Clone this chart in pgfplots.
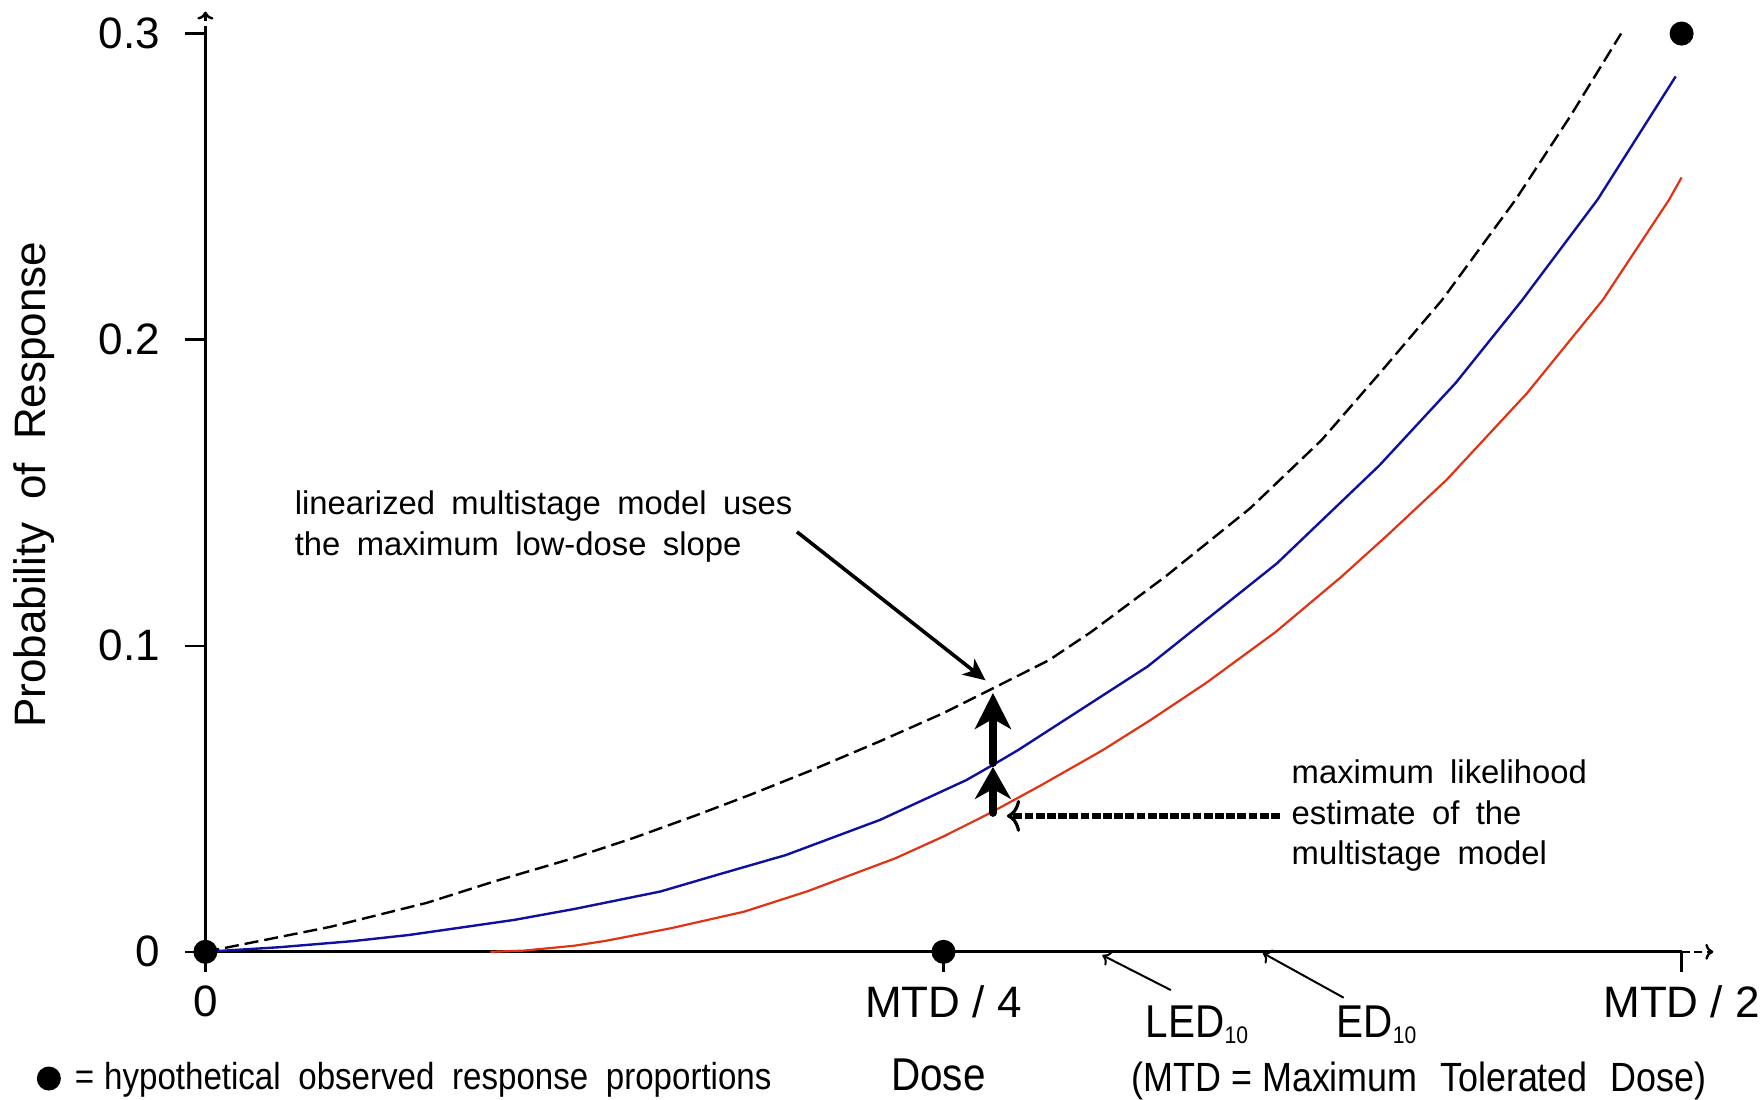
\documentclass[border=0pt]{standalone}
\usepackage{fontspec}
\setmainfont{Liberation Sans}
\newfontfamily\narrowfont{Liberation Sans}[FakeStretch=0.88]
\usepackage{pgfplots}
\pgfplotsset{compat=1.18}
\usetikzlibrary{arrows.meta}
\definecolor{curveblue}{RGB}{15,15,160}
\definecolor{curvered}{RGB}{225,50,20}
\newcommand{\ws}{\hspace{0.5em}}
\newcommand{\wl}{\hspace{0.47em}}
\pgfplotsset{dotlegend/.style={legend image code/.code={\draw[##1] plot coordinates {(0pt,0pt)};}}}

\pgfplotstableread{
x y
0 0
0.17 0.0082
0.3 0.0160
0.39 0.0229
0.49 0.0300
0.58 0.0372
0.666 0.0447
0.737 0.0512
0.82 0.0592
0.914 0.0688
1.0 0.0780
1.063 0.0856
1.143 0.0953
1.2 0.1045
1.3006 0.1226
1.4154 0.1449
1.5123 0.1672
1.5909 0.1890
1.6756 0.2130
1.775 0.2457
1.85 0.2733
1.918 0.3000
}\linearized

\pgfplotstableread{
x y
0 0
0.1 0.0015
0.2 0.0035
0.2758 0.0055
0.4178 0.0104
0.5 0.0140
0.6164 0.0197
0.7013 0.0257
0.7863 0.0316
0.914 0.0431
1.0309 0.0561
1.0665 0.0610
1.101 0.0659
1.2764 0.0932
1.4517 0.1269
1.5909 0.1590
1.6937 0.1858
1.7843 0.2130
1.886 0.2457
1.992 0.2860
}\upperbound

\pgfplotstableread{
x y
0.386 0
0.432 0.0004
0.5 0.0020
0.5426 0.0036
0.6306 0.0077
0.7296 0.0131
0.8147 0.0197
0.9352 0.0306
0.9991 0.0376
1.0628 0.0453
1.135 0.0548
1.2158 0.0659
1.279 0.0755
1.355 0.0877
1.45 0.1045
1.5394 0.1226
1.6 0.1358
1.6816 0.1542
1.7905 0.1825
1.8933 0.2130
1.983 0.2457
2.0 0.2530
}\mle

\pgfplotstableread{
x y
0 0
1 0
2 0.3
}\observed

\begin{document}
\begin{tikzpicture}
\useasboundingbox (0,0) rectangle (440pt,275pt);
\begin{axis}[
  at={(51.35pt,37.04pt)}, anchor=south west,
  scale only axis, width=369.05pt, height=229.56pt,
  xmin=0, xmax=2, ymin=0, ymax=0.3,
  clip=false,
  axis x line=bottom, axis y line=left,
  axis line style={-, line width=0.7pt},
  xtick={0,1,2}, xticklabels={0,MTD / 4,MTD / 2},
  ytick={0,0.1,0.2,0.3}, yticklabels={0,0.1,0.2,0.3},
  tick align=outside, major tick length=5pt,
  tick style={black, line width=0.6pt},
  ticklabel style={font=\fontsize{11}{13}\selectfont},
  yticklabel style={xshift=-2.8pt},
  legend style={at={(-0.1223,-0.1380)}, anchor=west, draw=none, fill=none,
    font=\narrowfont\fontsize{9.4}{11}\selectfont},
  legend cell align=left,
]
\addplot[black, line width=0.6pt, dash pattern=on 3.5pt off 1.5pt, forget plot] table {\linearized};
\addplot[curveblue, line width=0.6pt, forget plot] table {\upperbound};
\addplot[curvered, line width=0.55pt, forget plot] table {\mle};
\addplot[only marks, mark=*, mark size=2.8pt, black, dotlegend] table {\observed};
\addlegendentry{\hspace{1.7pt}=\hspace{2.5pt}hypothetical\wl observed\wl response\wl proportions}

% axis extensions
\draw[line width=0.6pt, dash pattern=on 2pt off 1.2pt, -{To[length=2pt,width=4pt]}] (axis cs:2,0) -- (axis cs:2.043,0);
\draw[line width=0.6pt, dash pattern=on 2pt off 1.2pt, -{To[length=2pt,width=4pt]}] (axis cs:0,0.3) -- (axis cs:0,0.3072);

% arrows
\draw[line width=2pt, line cap=round, -{Stealth[length=8pt,width=9pt,inset=2.5pt]}] (axis cs:1.067,0.0454) -- (axis cs:1.067,0.0604);
\draw[line width=2pt, line cap=round, -{Stealth[length=9pt,width=9pt,inset=2.5pt]}] (axis cs:1.067,0.0617) -- (axis cs:1.067,0.0846);
\draw[line width=1.3pt, dash pattern=on 2.2pt off 0.6pt, -{To[length=3.3pt,width=8pt,line width=0.8pt]}] (axis cs:1.4555,0.0444) -- (axis cs:1.0859,0.0444);
\draw[line width=0.9pt, -{Stealth[length=5.5pt,width=5pt,inset=1.5pt]}] (axis cs:0.8015,0.1372) -- (axis cs:1.057,0.0887);
\draw[line width=0.5pt, -{To[length=2pt,width=4pt]}] (axis cs:1.308,-0.0125) -- (axis cs:1.2152,-0.0011);
\draw[line width=0.5pt, -{To[length=2pt,width=4pt]}] (axis cs:1.5422,-0.015) -- (axis cs:1.4327,-0.0004);

% annotations
\node[anchor=west, align=left, inner sep=0pt, font=\fontsize{8.2}{10.1}\selectfont]
  at (axis cs:0.12,0.1390) {linearized\ws multistage\ws model\ws uses\\the\ws maximum\ws low-dose\ws slope};
\node[anchor=west, align=left, inner sep=0pt, font=\fontsize{8.2}{10.1}\selectfont]
  at (axis cs:1.4707,0.0444) {maximum\ws likelihood\\estimate\ws of\ws the\\multistage\ws model};
\node[rotate=90, font=\fontsize{11}{13}\selectfont]
  at (axis cs:-0.2327,0.1526) {Probability\hspace{0.52em}of\hspace{0.52em}Response};
\node[font=\narrowfont\fontsize{11.5}{13}\selectfont] at (axis cs:0.9932,-0.0403) {Dose};
\node[font=\narrowfont\fontsize{10.2}{12}\selectfont]
  at (axis cs:1.644,-0.0422) {(MTD = Maximum\hspace{0.55em}Tolerated\hspace{0.55em}Dose)};
\node[anchor=west, inner sep=0pt, font=\narrowfont\fontsize{11.5}{13}\selectfont]
  at (axis cs:1.273,-0.0238) {LED\raisebox{-1.5pt}{\fontsize{6}{6}\selectfont 10}};
\node[anchor=west, inner sep=0pt, font=\narrowfont\fontsize{11.5}{13}\selectfont]
  at (axis cs:1.5316,-0.0238) {ED\raisebox{-1.5pt}{\fontsize{6}{6}\selectfont 10}};
\end{axis}
\end{tikzpicture}
\end{document}
